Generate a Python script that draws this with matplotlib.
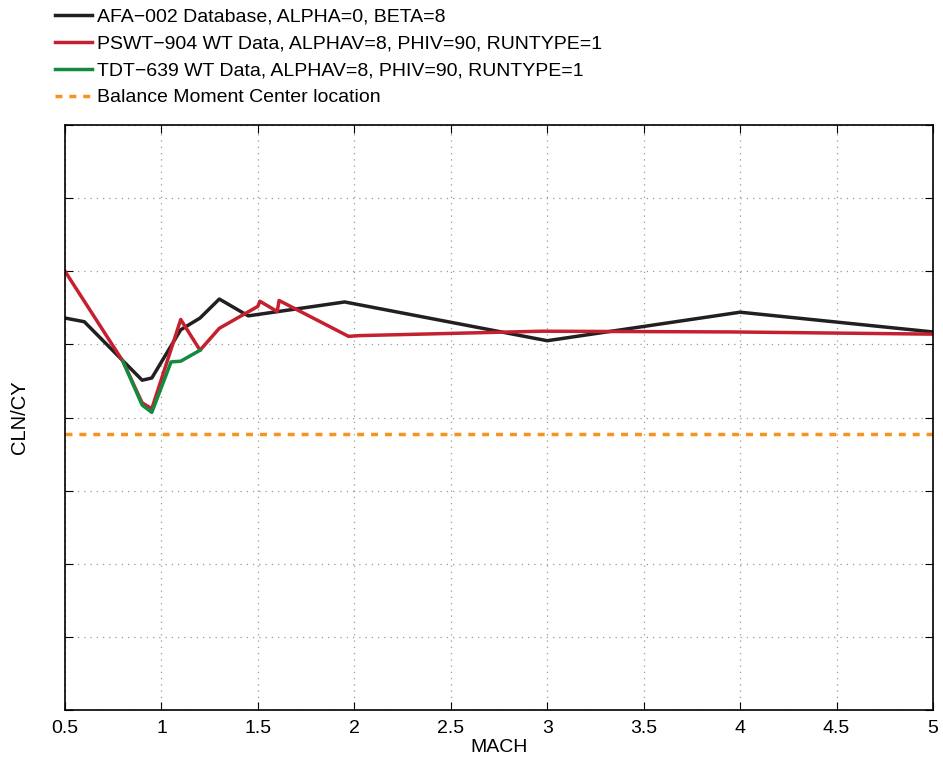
import matplotlib
matplotlib.use('Agg')
from matplotlib import pyplot as plt

plt.rcParams['font.family'] = ['Liberation Sans', 'DejaVu Sans']

# data (y axis is unlabeled, values in grid units 0..8)
afa_mach = [0.5, 0.6, 0.9, 0.95, 1.1, 1.2, 1.3, 1.45, 1.95, 3.0, 4.0, 5.0]
afa_cln = [5.36, 5.31, 4.51, 4.54, 5.20, 5.36, 5.62, 5.39, 5.58, 5.05, 5.44, 5.17]

pswt_mach = [0.5, 0.8, 0.9, 0.95, 1.1, 1.2, 1.3, 1.5, 1.51, 1.6, 1.61, 1.97, 2.03, 2.97, 3.96, 5.0]
pswt_cln = [6.0, 4.77, 4.20, 4.12, 5.34, 4.92, 5.22, 5.52, 5.59, 5.45, 5.60, 5.11, 5.12, 5.18, 5.17, 5.14]

tdt_mach = [0.8, 0.9, 0.95, 1.05, 1.1, 1.2]
tdt_cln = [4.77, 4.17, 4.07, 4.76, 4.77, 4.92]

bmc = 3.78

labels = ['AFA\u2212002 Database, ALPHA=0, BETA=8',
          'PSWT\u2212904 WT Data, ALPHAV=8, PHIV=90, RUNTYPE=1',
          'TDT\u2212639 WT Data, ALPHAV=8, PHIV=90, RUNTYPE=1',
          'Balance Moment Center location']

fig = plt.figure(figsize=(9.43, 7.57), dpi=100)
ax = fig.add_axes([65 / 943, 47 / 757, 868 / 943, 585 / 757])

ax.plot(afa_mach, afa_cln, color='#231f20', lw=2.5, label=labels[0])
ax.plot(pswt_mach, pswt_cln, color='#c4202f', lw=2.5, label=labels[1])
ax.plot(tdt_mach, tdt_cln, color='#138a3e', lw=2.5, label=labels[2])
ax.axhline(bmc, color='#f7941d', lw=2.5, ls=(0, (2, 2)), label=labels[3])

ax.set_xlim(0.5, 5)
ax.set_ylim(0, 8)
ax.set_xticks([0.5, 1, 1.5, 2, 2.5, 3, 3.5, 4, 4.5, 5])
ax.set_xticklabels(['0.5', '1', '1.5', '2', '2.5', '3', '3.5', '4', '4.5', '5'])
ax.set_yticks(range(9))
ax.set_yticklabels([])
ax.tick_params(direction='in', top=True, right=True, length=6, labelsize=14, pad=7)
ax.grid(True, color='#999999', ls=(0, (1, 4)), lw=0.9)
for s in ax.spines.values():
    s.set_linewidth(1.2)

ax.set_xlabel('MACH', fontsize=14, labelpad=2)
ax.set_ylabel('CLN/CY', fontsize=14.5, va='center')
ax.yaxis.set_label_coords(-45 / 868, 0.5)

fig.legend(loc='upper left', bbox_to_anchor=(55 / 943, 1 - 8 / 757), frameon=False,
           fontsize=14, handlelength=1.9, handletextpad=0.25, labelspacing=0.48,
           borderpad=0, borderaxespad=0)

fig.savefig('out.png', dpi=100)
